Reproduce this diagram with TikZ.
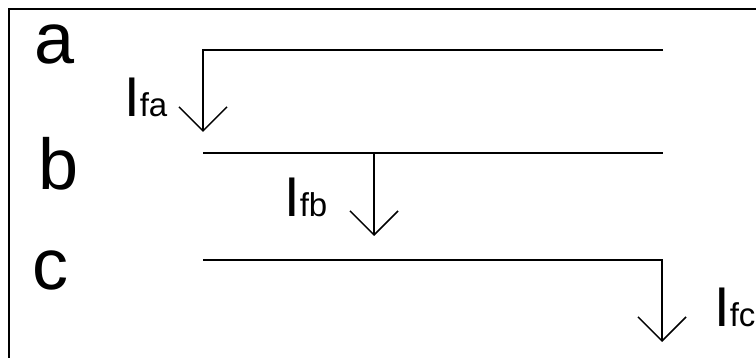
\documentclass[tikz,border=0pt]{standalone}
\usepackage{fontspec}
\setmainfont{Liberation Sans}
\usetikzlibrary{arrows.meta}
\begin{document}
\begin{tikzpicture}[x=1pt,y=-1pt,
  phase/.style={anchor=base west,inner sep=0pt,font=\fontsize{72}{72}\selectfont},
  curr/.style={anchor=base west,inner sep=0pt,font=\fontsize{56}{56}\selectfont},
  wire/.style={line width=1.5pt,-{Straight Barb[length=24pt,width=48pt,line width=1.5pt]}}]
\useasboundingbox (0,0) rectangle (756,358);
\draw[line width=2pt] (9,370) -- (9,9) -- (770,9);
\node[phase] (la) at (34,64) {a};
\node[phase] (lb) at (38,190) {b};
\node[phase] (lc) at (32,290) {c};
\node[curr] (ifa) at (124,117) {I{\fontsize{33}{33}\selectfont fa}};
\node[curr] (ifb) at (284,217) {I{\fontsize{33}{33}\selectfont fb}};
\node[curr] (ifc) at (714,327) {I{\fontsize{33}{33}\selectfont fc}};
\coordinate (a1) at (663,50);
\coordinate (a2) at (203,50);
\coordinate (a3) at (203,132);
\coordinate (b1) at (203,153);
\coordinate (b2) at (663,153);
\coordinate (b3) at (374,153);
\coordinate (b4) at (374,236);
\coordinate (c1) at (203,260);
\coordinate (c2) at (662,260);
\coordinate (c3) at (662,342);
\draw[wire] (a1) -- (a2) -- (a3);
\draw[line width=1.5pt] (b1) -- (b2);
\draw[wire] (b3) -- (b4);
\draw[wire] (c1) -- (c2) -- (c3);
\end{tikzpicture}
\end{document}
